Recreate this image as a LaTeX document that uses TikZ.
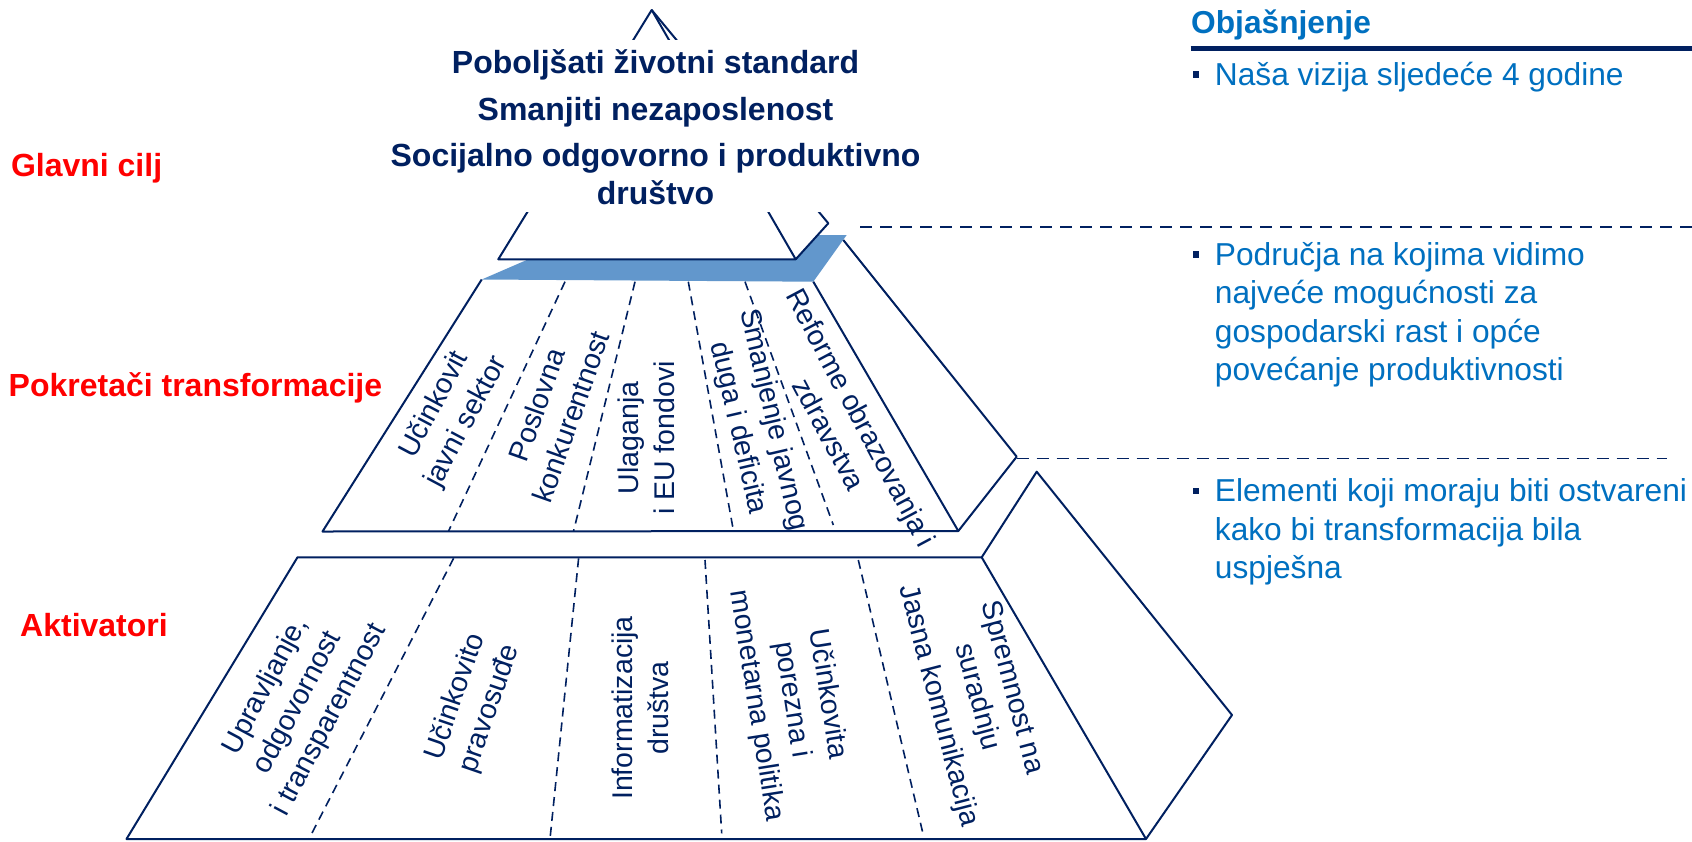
\documentclass[tikz,border=0pt]{standalone}
\usepackage{fontspec}
\setmainfont{Liberation Sans}
\definecolor{navy}{RGB}{0,32,96}
\definecolor{bandblue}{RGB}{98,151,204}
\definecolor{explblue}{RGB}{0,112,192}
\begin{document}
\begin{tikzpicture}[x=1pt,y=-1pt,
  edge/.style={draw=navy,line width=2pt,line join=round},
  divider/.style={draw=navy,line width=1.6pt,dash pattern=on 9pt off 6pt},
  guide/.style={draw=navy,line width=1.6pt,dash pattern=on 12pt off 8pt},
  goal/.style={font=\bfseries\fontsize{32}{38}\selectfont,text=navy,inner sep=0pt,anchor=base},
  levellabel/.style={font=\bfseries\fontsize{32}{38}\selectfont,text=red,inner sep=0pt,anchor=base west},
  item/.style={font=\fontsize{28.5}{36}\selectfont,text=navy,align=center,inner sep=0pt},
  expl/.style={font=\fontsize{31.7}{38.6}\selectfont,text=explblue,inner sep=0pt,anchor=base west},
  explhead/.style={font=\bfseries\fontsize{31.7}{38.6}\selectfont,text=explblue,inner sep=0pt,anchor=base west},
  bulletsq/.style={fill=navy,inner sep=0pt,minimum size=6.6pt,draw=none}]
\fill[white] (0,0) rectangle (1692,841);
\useasboundingbox (0,0) rectangle (1692,841);

% ---------- coordinates ----------
\coordinate (A) at (651.7,10);
\coordinate (TBL) at (498.3,259.3);
\coordinate (TBR) at (795.7,259.3);
\coordinate (TBB) at (828.3,223.3);

\coordinate (MTL) at (481.7,279.5);
\coordinate (MBL) at (322.5,531.5);
\coordinate (MBR) at (958.3,531);
\coordinate (MTR) at (813.3,281.7);
\coordinate (MBB) at (1016.7,456.7);
\coordinate (MTB) at (843.3,240);

\coordinate (BTL) at (297.5,557.3);
\coordinate (BBL) at (126.5,839);
\coordinate (BBR) at (1146,839);
\coordinate (BTR) at (981.7,557.3);
\coordinate (BTB) at (1036.7,471.7);
\coordinate (BBB) at (1232,715);

% ---------- blue band ----------
\fill[bandblue] (MTL) -- (526.7,260) -- (TBR) -- (817.7,235) -- (846.7,235) -- (MTR) -- cycle;

% ---------- top pyramid ----------
\draw[edge] (A) -- (TBL) -- (TBR) -- cycle;
\draw[edge] (TBR) -- (TBB) -- (A);
\fill[white] (400,40) rectangle (930,211.7);

\node[goal] (g1) at (655.5,73.3) {Poboljšati životni standard};
\node[goal] (g2) at (655.5,120) {Smanjiti nezaposlenost};
\node[goal] (g3) at (655.5,166.7) {Socijalno odgovorno i produktivno};
\node[goal] (g4) at (655.5,204) {društvo};

% ---------- middle layer ----------
\draw[edge] (MTL) -- (MBL) -- (MBR) -- (MTR);
\draw[edge] (MBR) -- (MBB) -- (MTB);
\draw[divider] (565,281.7) -- (448.6,531);
\draw[divider] (635,281.7) -- (573.6,531);
\draw[divider] (688.3,281.7) -- (733.3,530);
\draw[divider] (745,281.7) -- (833.3,525);

\node[item,rotate=62] (m1) at (450.8,413.3) {Učinkovit\\javni sektor};
\node[item,rotate=70.5] (m2) at (553.9,410.8) {Poslovna\\konkurentnost};
\node[item,rotate=90] (m3) at (646,438) {Ulaganja\\i EU fondovi};
\node[item,rotate=-77] (m4) at (755.4,424) {Smanjenje javnog\\duga i deficita};
\node[item,rotate=-62] (m5) at (845.4,425.8) {Reforme obrazovanja i\\zdravstva};

% ---------- bottom layer ----------
\draw[edge] (BTL) -- (BBL) -- (BBR) -- (BTR) -- cycle;
\draw[edge] (BTR) -- (BTB) -- (BBB) -- (BBR);
\draw[divider] (453.6,558.3) -- (308.9,839);
\draw[divider] (578.6,558.3) -- (550,839);
\draw[divider] (705,560) -- (721.7,833.3);
\draw[divider] (858.3,560) -- (923.3,835);

\node[item,rotate=62] (b1) at (298,703) {Upravljanje,\\odgovornost\\i transparentnost};
\node[item,rotate=71] (b2) at (472.8,703) {Učinkovito\\pravosuđe};
\node[item,rotate=90] (b3) at (640,708) {Informatizacija\\društva};
\node[item,rotate=-81] (b4) at (791.7,700) {Učinkovita\\porezna i\\monetarna politika};
\node[item,rotate=-75.5] (b5) at (938,706) {Jasna komunikacija};
\node[item,rotate=-75] (b6) at (994,692.5) {Spremnost na\\suradnju};

% ---------- level labels ----------
\node[levellabel] (l1) at (10.8,176.5) {Glavni cilj};
\node[levellabel] (l2) at (8.5,396.7) {Pokretači transformacije};
\node[levellabel] (l3) at (20,636) {Aktivatori};

% ---------- explanation column ----------
\coordinate (G1a) at (860,227);
\coordinate (G1b) at (1692,227);
\coordinate (G2b) at (1667,458.5);
\draw[guide] (G1a) -- (G1b);
\draw[guide] (MBB |- 0,458.5) -- (G2b);

\node[explhead] (eh) at (1191,33.3) {Objašnjenje};
\draw[navy,line width=5.7pt] (1190.5,48.5) -- (1692,48.5);

\node[bulletsq] (s1) at (1196,74.3) {};
\node[expl] (e1) at (1214.7,85) {Naša vizija sljedeće 4 godine};

\node[bulletsq] (s2) at (1196,254.7) {};
\node[expl] (e2a) at (1214.7,265) {Područja na kojima vidimo};
\node[expl] (e2b) at (1214.7,303.6) {najveće mogućnosti za};
\node[expl] (e2c) at (1214.7,342.2) {gospodarski rast i opće};
\node[expl] (e2d) at (1214.7,380.8) {povećanje produktivnosti};

\node[bulletsq] (s3) at (1196,490.8) {};
\node[expl] (e3a) at (1214.7,501.7) {Elementi koji moraju biti ostvareni};
\node[expl] (e3b) at (1214.7,540.3) {kako bi transformacija bila};
\node[expl] (e3c) at (1214.7,578.9) {uspješna};
\end{tikzpicture}
\end{document}
